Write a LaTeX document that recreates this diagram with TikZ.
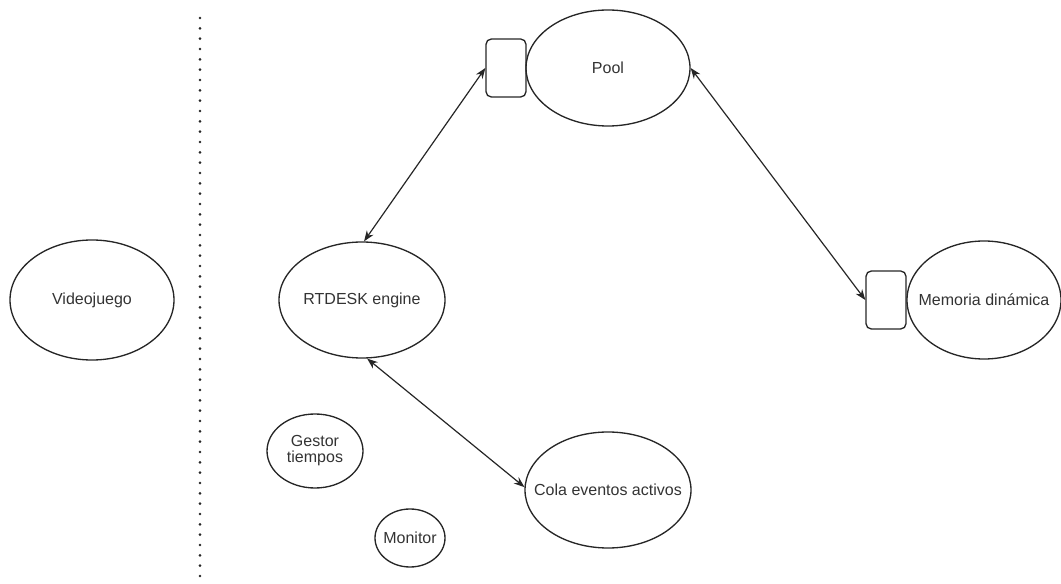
\documentclass[tikz,border=0pt]{standalone}
\usepackage{fontspec}
\setmainfont{Liberation Sans}
\usetikzlibrary{shapes.geometric,arrows.meta}
% text that does not widen its ellipse
\newcommand{\zerowide}[1]{\makebox[0pt]{#1}}
\begin{document}
\begin{tikzpicture}[x=0.75pt,y=-0.75pt,
  oval/.style={ellipse,draw=black!85,line width=1pt,inner sep=0pt,
    font=\fontsize{12}{14}\selectfont,text=black!80},
  port/.style={rectangle,rounded corners=4pt,draw=black!85,line width=1pt,
    minimum width=30pt,minimum height=43.5pt,inner sep=0pt},
  link/.style={draw=black!85,line width=0.9pt,{Stealth[length=8pt,width=6pt]}-{Stealth[length=8pt,width=6pt]}}]
\useasboundingbox (0,0) rectangle (1061,584);
% separator
\draw[black!85,line width=2.2pt,line cap=round,dash pattern=on 0pt off 7.75pt] (200,18) -- (200,578);
% nodes
\node[oval,minimum width=123pt,minimum height=90pt] (video) at (92,300) {\zerowide{Videojuego}};
\node[oval,minimum width=124.5pt,minimum height=87pt] (rtdesk) at (362,300) {\zerowide{RTDESK engine}};
\node[oval,minimum width=123pt,minimum height=87pt] (pool) at (608,68) {\zerowide{Pool}};
\node[port] (poolbox) at (506,68) {};
\node[oval,minimum width=115.5pt,minimum height=88.5pt] (mem) at (984,300) {\zerowide{Memoria dinámica}};
\node[port] (membox) at (886,300) {};
\node[oval,minimum width=72pt,minimum height=55.5pt] (gestor) at (315,451)
  {\zerowide{\begin{tabular}{@{}c@{}}Gestor\\[-2pt]tiempos\end{tabular}}};
\node[oval,minimum width=52.5pt,minimum height=43.5pt] (monitor) at (410,538) {\zerowide{Monitor}};
\node[oval,minimum width=124.5pt,minimum height=87pt] (cola) at (608,490) {\zerowide{Cola eventos activos}};
% connectors
\draw[link] (rtdesk.88) -- (poolbox.west);
\draw[link] (pool.east) -- (membox.west);
\draw[link] (rtdesk.-85) -- (cola.178);
\end{tikzpicture}
\end{document}
